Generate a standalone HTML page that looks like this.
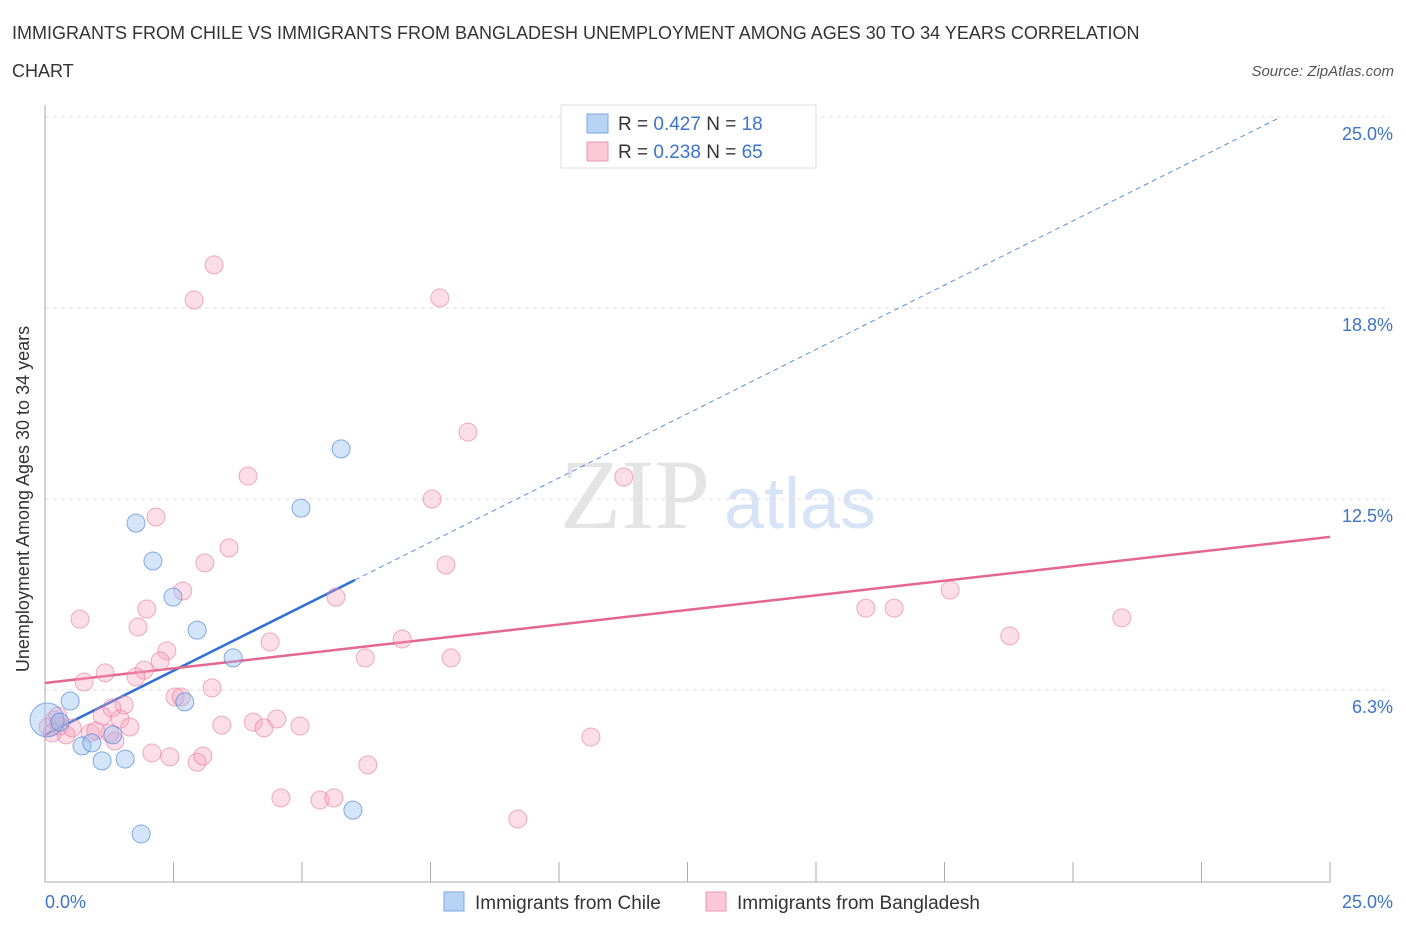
<!DOCTYPE html>
<html><head><meta charset="utf-8"><style>
body{margin:0;background:#fff;font-family:"Liberation Sans",sans-serif;}
</style></head><body>
<svg width="1406" height="930" xmlns="http://www.w3.org/2000/svg" id="chart">
<text x="12" y="39" font-size="18" fill="#333">IMMIGRANTS FROM CHILE VS IMMIGRANTS FROM BANGLADESH UNEMPLOYMENT AMONG AGES 30 TO 34 YEARS CORRELATION</text>
<text x="12" y="77" font-size="18" fill="#333">CHART</text>
<text x="1394" y="76" font-size="15" fill="#555" font-style="italic" text-anchor="end">Source: ZipAtlas.com</text>
<g>
<text x="635" y="528" font-size="100" fill="#e4e4e4" font-family="Liberation Serif,serif" text-anchor="middle">ZIP</text>
<text x="800" y="528" font-size="72" fill="#d6e4f5" text-anchor="middle">atlas</text>
</g>
<g id="grid"></g>
<g id="axes"></g>
<g id="lines"></g>
<g id="pts"></g>
<g>
<rect x="561" y="105" width="255" height="63" fill="#fff" stroke="#ddd"/>
<rect x="587" y="114" width="21" height="19" fill="#b9d3f5" stroke="#7aa7e6"/>
<text x="618" y="130" font-size="19" fill="#333">R = <tspan fill="#3d73c9">0.427</tspan>   N =  <tspan fill="#3d73c9">18</tspan></text>
<rect x="587" y="142" width="21" height="19" fill="#fbc8d7" stroke="#ee97b1"/>
<text x="618" y="158" font-size="19" fill="#333">R = <tspan fill="#3d73c9">0.238</tspan>   N = <tspan fill="#3d73c9">65</tspan></text>
</g>
<g>
<rect x="444" y="892" width="20" height="19" fill="#b9d3f5" stroke="#7aa7e6"/>
<text x="475" y="909" font-size="19" fill="#333">Immigrants from Chile</text>
<rect x="706" y="892" width="20" height="19" fill="#fbc8d7" stroke="#ee97b1"/>
<text x="737" y="909" font-size="19" fill="#333">Immigrants from Bangladesh</text>
</g>
<text x="24" y="494" font-size="18" fill="#333" text-anchor="middle" transform="rotate(-90 29 494)">Unemployment Among Ages 30 to 34 years</text>
</svg>
<script>
const yTicks=[6.25,12.5,18.75,25];
const yTickLabels=["6.3%","12.5%","18.8%","25.0%"];
const xTickLabels=["0.0%","25.0%"];
const chileX=[0.04,0.29,0.49,0.72,0.91,1.11,1.32,1.56,1.77,1.87,2.1,2.49,2.72,2.96,3.66,4.98,5.76,5.99];
const chileY=[5.27,5.2,5.89,4.42,4.52,3.93,4.78,3.99,11.71,1.54,10.47,9.29,5.86,8.21,7.3,12.2,14.14,2.32];
const bangX=[3.29,2.9,7.68,8.23,3.95,7.53,11.26,2.16,3.58,3.11,7.8,2.68,0.68,1.98,1.81,5.66,2.37,4.38,6.95,6.23,7.9,15.97,16.52,17.61,18.77,20.95,1.17,0.76,1.93,2.24,1.77,3.25,2.53,2.65,1.54,1.3,1.11,1.46,1.65,3.44,4.05,4.26,4.51,4.96,0.18,0.29,0.41,0.53,0.88,0.99,1.36,2.08,2.43,2.96,3.07,10.62,6.28,4.59,5.35,5.62,9.2,0.06,0.14,1.26,0.25];
const bangY=[20.16,19.01,19.08,14.69,13.25,12.5,13.22,11.91,10.9,10.41,10.34,9.49,8.57,8.9,8.31,9.29,7.53,7.82,7.92,7.3,7.3,8.93,8.93,9.52,8.02,8.61,6.81,6.51,6.9,7.2,6.68,6.32,6.02,6.02,5.76,5.66,5.4,5.3,5.04,5.1,5.2,5.01,5.3,5.07,5.27,5.07,4.78,5.01,4.84,4.91,4.58,4.19,4.06,3.89,4.09,4.71,3.8,2.72,2.65,2.72,2.03,5.04,4.84,4.84,5.4];
const chileTrend=[4.78,0.841,6.03];
const bangTrend=[6.48,11.26];
const NS="http://www.w3.org/2000/svg";
const X=v=>45+v*51.4, Y=v=>881-v*30.56;
function mk(tag,parent,attrs){const e=document.createElementNS(NS,tag);for(const k in attrs)e.setAttribute(k,attrs[k]);document.getElementById(parent).appendChild(e);return e;}
yTicks.forEach((t,i)=>{
 const l=mk('line','grid',{x1:45,x2:1390,y1:Y(t),y2:Y(t),stroke:'#ddd','stroke-dasharray':'4,4'});
 
 
 const tx=mk('text','grid',{x:1393,y:Y(t)+23,'font-size':18,fill:'#3d73c9','text-anchor':'end'});
 tx.textContent=yTickLabels[i];
 
 
});
mk('line','axes',{x1:45,x2:45,y1:105,y2:882,stroke:'#aaa'});
mk('line','axes',{x1:45,x2:1330,y1:882,y2:882,stroke:'#aaa'});
for(let i=0;i<=10;i++){const t=mk('line','axes',{x1:X(i*2.5),x2:X(i*2.5),y1:862,y2:882,stroke:'#aaa'});
 
 }
const xl0=mk('text','axes',{x:45,y:908,'font-size':18,fill:'#3d73c9'});xl0.textContent=xTickLabels[0];


const xl1=mk('text','axes',{x:1393,y:908,'font-size':18,fill:'#3d73c9','text-anchor':'end'});xl1.textContent=xTickLabels[1];


bangX.forEach((x,i)=>{const c=mk('circle','pts',{cx:X(x),cy:Y(bangY[i]),r:9,fill:'rgba(246,160,188,0.35)',stroke:'rgba(232,120,155,0.6)'});
 
 });
chileX.forEach((x,i)=>{const c=mk('circle','pts',{cx:X(x),cy:Y(chileY[i]),r:i==0?17:9,fill:'rgba(150,190,240,0.4)',stroke:'rgba(70,130,215,0.65)'});
 
 });
const [b0,bs,bend]=chileTrend;
const l1=mk('line','lines',{x1:X(0),y1:Y(b0),x2:X(bend),y2:Y(b0+bs*bend),stroke:'#2f6fd6','stroke-width':2.5});


const xe=24;
const l2=mk('line','lines',{x1:X(bend),y1:Y(b0+bs*bend),x2:X(xe),y2:Y(b0+bs*xe),stroke:'#5b8fd9','stroke-width':1,'stroke-dasharray':'5,4'});


const l3=mk('line','lines',{x1:X(0),y1:Y(bangTrend[0]),x2:X(25),y2:Y(bangTrend[1]),stroke:'#e5668f','stroke-width':2.5});


</script>
</body></html>
